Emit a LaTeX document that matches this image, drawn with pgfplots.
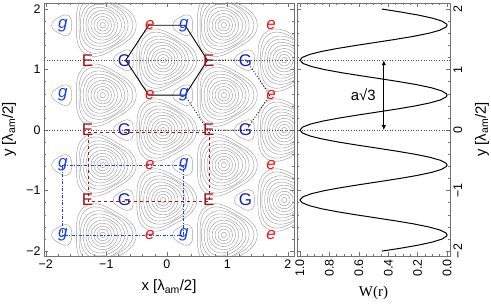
\documentclass[border=0pt]{standalone}
\usepackage{pgfplots}
\pgfplotsset{compat=1.18}
\usepackage{pgfplotstable}
\usepackage{fontspec}
\setmainfont{Liberation Sans}
\newfontfamily\serif{Liberation Serif}
\usetikzlibrary{arrows.meta}

\definecolor{Ecol}{rgb}{0.62,0.08,0.08}
\definecolor{ecol}{rgb}{0.95,0.08,0.08}
\definecolor{Gcol}{rgb}{0.08,0.12,0.68}
\definecolor{gcol}{rgb}{0.1,0.25,0.95}
\definecolor{framecol}{rgb}{0.45,0.45,0.45}
\definecolor{contcol}{rgb}{0.62,0.62,0.62}

\newcommand\lbl{\fontsize{17}{17}\selectfont}
\newcommand\tickf{\fontsize{12.5}{13}\selectfont}
\newcommand\labf{\fontsize{15}{16}\selectfont}

% rounded triangle marks (vertex pointing to +x)
\pgfdeclareplotmark{rtA}{%
  \pgfpathmoveto{\pgfqpoint{1.06\pgfplotmarksize}{0pt}}%
  \pgfpathcurveto{\pgfqpoint{1.06\pgfplotmarksize}{0.3784\pgfplotmarksize}}{\pgfqpoint{0.7606\pgfplotmarksize}{0.6463\pgfplotmarksize}}{\pgfqpoint{0.47\pgfplotmarksize}{0.8141\pgfplotmarksize}}%
  \pgfpathcurveto{\pgfqpoint{0.1794\pgfplotmarksize}{0.9819\pgfplotmarksize}}{\pgfqpoint{-0.2023\pgfplotmarksize}{1.1072\pgfplotmarksize}}{\pgfqpoint{-0.53\pgfplotmarksize}{0.918\pgfplotmarksize}}%
  \pgfpathcurveto{\pgfqpoint{-0.8577\pgfplotmarksize}{0.7288\pgfplotmarksize}}{\pgfqpoint{-0.94\pgfplotmarksize}{0.3356\pgfplotmarksize}}{\pgfqpoint{-0.94\pgfplotmarksize}{0pt}}%
  \pgfpathcurveto{\pgfqpoint{-0.94\pgfplotmarksize}{-0.3356\pgfplotmarksize}}{\pgfqpoint{-0.8577\pgfplotmarksize}{-0.7288\pgfplotmarksize}}{\pgfqpoint{-0.53\pgfplotmarksize}{-0.918\pgfplotmarksize}}%
  \pgfpathcurveto{\pgfqpoint{-0.2023\pgfplotmarksize}{-1.1072\pgfplotmarksize}}{\pgfqpoint{0.1794\pgfplotmarksize}{-0.9819\pgfplotmarksize}}{\pgfqpoint{0.47\pgfplotmarksize}{-0.8141\pgfplotmarksize}}%
  \pgfpathcurveto{\pgfqpoint{0.7606\pgfplotmarksize}{-0.6463\pgfplotmarksize}}{\pgfqpoint{1.06\pgfplotmarksize}{-0.3784\pgfplotmarksize}}{\pgfqpoint{1.06\pgfplotmarksize}{0pt}}%
  \pgfpathclose
  \pgfusepathqstroke
}
\pgfdeclareplotmark{rtB}{%
  \pgfpathmoveto{\pgfqpoint{1.12\pgfplotmarksize}{0pt}}%
  \pgfpathcurveto{\pgfqpoint{1.12\pgfplotmarksize}{0.4\pgfplotmarksize}}{\pgfqpoint{0.7121\pgfplotmarksize}{0.605\pgfplotmarksize}}{\pgfqpoint{0.44\pgfplotmarksize}{0.7621\pgfplotmarksize}}%
  \pgfpathcurveto{\pgfqpoint{0.1679\pgfplotmarksize}{0.9192\pgfplotmarksize}}{\pgfqpoint{-0.2137\pgfplotmarksize}{1.1698\pgfplotmarksize}}{\pgfqpoint{-0.56\pgfplotmarksize}{0.9699\pgfplotmarksize}}%
  \pgfpathcurveto{\pgfqpoint{-0.9063\pgfplotmarksize}{0.77\pgfplotmarksize}}{\pgfqpoint{-0.88\pgfplotmarksize}{0.3142\pgfplotmarksize}}{\pgfqpoint{-0.88\pgfplotmarksize}{0pt}}%
  \pgfpathcurveto{\pgfqpoint{-0.88\pgfplotmarksize}{-0.3142\pgfplotmarksize}}{\pgfqpoint{-0.9063\pgfplotmarksize}{-0.77\pgfplotmarksize}}{\pgfqpoint{-0.56\pgfplotmarksize}{-0.9699\pgfplotmarksize}}%
  \pgfpathcurveto{\pgfqpoint{-0.2137\pgfplotmarksize}{-1.1698\pgfplotmarksize}}{\pgfqpoint{0.1679\pgfplotmarksize}{-0.9192\pgfplotmarksize}}{\pgfqpoint{0.44\pgfplotmarksize}{-0.7621\pgfplotmarksize}}%
  \pgfpathcurveto{\pgfqpoint{0.7121\pgfplotmarksize}{-0.605\pgfplotmarksize}}{\pgfqpoint{1.12\pgfplotmarksize}{-0.4\pgfplotmarksize}}{\pgfqpoint{1.12\pgfplotmarksize}{0pt}}%
  \pgfpathclose
  \pgfusepathqstroke
}

\pgfplotstableread{
cx cy
-2.06 2.309
-0.06 2.309
1.94 2.309
-1.06 1.732
0.94 1.732
-2.06 1.155
-0.06 1.155
1.94 1.155
-1.06 0.577
0.94 0.577
-2.06 0
-0.06 0
1.94 0
-1.06 -0.577
0.94 -0.577
-2.06 -1.155
-0.06 -1.155
1.94 -1.155
-1.06 -1.732
0.94 -1.732
-2.06 -2.309
-0.06 -2.309
1.94 -2.309
}\minima

\pgfplotstableread{
x y
-1.31 1.155
0.69 1.155
-1.31 0
0.69 0
-1.31 -1.155
0.69 -1.155
}\Esites
\pgfplotstableread{
x y
-0.70 1.155
1.30 1.155
-0.70 0
1.30 0
-0.70 -1.155
1.30 -1.155
}\Gsites
\pgfplotstableread{
x y
-0.28 1.732
1.72 1.732
-0.28 0.577
1.72 0.577
-0.28 -0.577
1.72 -0.577
-0.28 -1.732
1.72 -1.732
}\esites
\pgfplotstableread{
x y
-1.72 1.732
0.28 1.732
-1.72 0.577
0.28 0.577
-1.72 -0.577
0.28 -0.577
-1.72 -1.732
0.28 -1.732
}\gsites

\pgfplotstableread{
y W
-2.00 0.4437
-1.95 0.3123
-1.90 0.1947
-1.85 0.0995
-1.80 0.0338
-1.75 0.0024
-1.732 0.0000
-1.70 0.0076
-1.65 0.0490
-1.60 0.1236
-1.55 0.2259
-1.50 0.3484
-1.45 0.4820
-1.40 0.6169
-1.35 0.7433
-1.30 0.8517
-1.25 0.9343
-1.20 0.9849
-1.155 1.0000
-1.10 0.9780
-1.05 0.9210
-1.00 0.8331
-0.95 0.7206
-0.90 0.5919
-0.85 0.4565
-0.80 0.3242
-0.75 0.2049
-0.70 0.1073
-0.65 0.0386
-0.60 0.0038
-0.577 0.0000
-0.55 0.0055
-0.50 0.0436
-0.45 0.1153
-0.40 0.2153
-0.35 0.3362
-0.30 0.4692
-0.25 0.6045
-0.20 0.7320
-0.15 0.8425
-0.10 0.9278
-0.05 0.9816
0.00 1.0000
0.05 0.9816
0.10 0.9278
0.15 0.8425
0.20 0.7320
0.25 0.6045
0.30 0.4692
0.35 0.3362
0.40 0.2153
0.45 0.1153
0.50 0.0436
0.55 0.0055
0.577 0.0000
0.60 0.0038
0.65 0.0386
0.70 0.1073
0.75 0.2049
0.80 0.3242
0.85 0.4565
0.90 0.5919
0.95 0.7206
1.00 0.8331
1.05 0.9210
1.10 0.9780
1.155 1.0000
1.20 0.9849
1.25 0.9343
1.30 0.8517
1.35 0.7433
1.40 0.6169
1.45 0.4820
1.50 0.3484
1.55 0.2259
1.60 0.1236
1.65 0.0490
1.70 0.0076
1.732 0.0000
1.75 0.0024
1.80 0.0338
1.85 0.0995
1.90 0.1947
1.95 0.3123
2.00 0.4437
}\Wdata

\begin{document}
\begin{tikzpicture}
\useasboundingbox (0,0) rectangle (491bp,308bp);

% ---------------- left panel ----------------
\begin{axis}[
  at={(44bp,52bp)}, anchor=south west, scale only axis,
  width=250bp, height=253bp,
  xmin=-2.03, xmax=2.1, ymin=-2.08, ymax=2.1,
  xtick={-2,-1,0,1,2}, xticklabels={−2,−1,0,1,2},
  ytick={-2,-1,0,1,2}, yticklabels={−2,−1,0,1,2},
  minor x tick num=4, minor y tick num=4,
  tick align=inside, tick pos=both,
  major tick length=4bp, minor tick length=2bp,
  axis line style={framecol, line width=0.6pt},
  every tick/.style={framecol, line width=0.5pt},
  tick label style={font=\tickf, text=black},
  xlabel={x [λ\textsubscript{am}/2]},
  ylabel={y [λ\textsubscript{am}/2]},
  every axis x label/.style={at={(axis description cs:0.5,0)}, anchor=center, yshift=-31bp, font=\labf},
  every axis y label/.style={at={(axis description cs:0,0.5)}, anchor=center, xshift=-35bp, rotate=90, font=\labf},
  clip marker paths=true,
]
% contour rings around the minima
\pgfplotsinvokeforeach{2.73,5.77,8.81,11.84,14.88}{%
  \addplot[contcol, line width=0.45pt, only marks, mark=o, mark size=#1pt] table {\minima};
}
\pgfplotsinvokeforeach{17.92,20.95,23.99}{%
  \addplot[contcol, line width=0.45pt, only marks, mark=rtA, mark size=#1pt] table {\minima};
}
\pgfplotsinvokeforeach{27.02,30.06}{%
  \addplot[contcol, line width=0.45pt, only marks, mark=rtB, mark size=#1pt] table {\minima};
}
% closed loops around the blue sites
\addplot[contcol, line width=0.45pt, only marks, mark=rtB, mark size=10pt, mark options={rotate=180}] table {\Gsites};
\addplot[contcol, line width=0.45pt, only marks, mark=rtB, mark size=10pt, mark options={rotate=180}] table {\gsites};

% guide lines
\addplot[black!70, dotted, line width=0.6pt] coordinates {(-2.03,1.155) (2.1,1.155)};
\addplot[black!70, dotted, line width=0.6pt] coordinates {(-2.03,0) (2.1,0)};
\addplot[black, line width=0.9pt] coordinates {(-0.68,1.155) (-0.3,1.732) (0.3,1.732) (0.67,1.155) (0.3,0.577) (-0.3,0.577) (-0.68,1.155)};
\addplot[black, dotted, line width=0.9pt] coordinates {(0.3,0.577) (0.67,0) (1.31,0) (1.70,0.577) (1.31,1.155) (0.67,1.155)};
\addplot[Ecol, dashed, line width=0.8pt] coordinates {(-1.30,-0.04) (0.70,-0.04) (0.70,-1.185) (-1.30,-1.185) (-1.30,-0.04)};
\addplot[gcol, dash pattern=on 3pt off 1.5pt on 1pt off 1.5pt, line width=0.8pt] coordinates {(-1.72,-0.577) (0.28,-0.577) (0.28,-1.732) (-1.72,-1.732) (-1.72,-0.577)};

% site labels
\addplot[only marks, mark=none, nodes near coords={E},
  every node near coord/.append style={font=\lbl, text=Ecol, anchor=center, inner sep=0pt}] table {\Esites};
\addplot[only marks, mark=none, nodes near coords={G},
  every node near coord/.append style={font=\lbl, text=Gcol, anchor=center, inner sep=0pt}] table {\Gsites};
\addplot[only marks, mark=none, nodes near coords={e},
  every node near coord/.append style={font=\lbl\itshape, text=ecol, anchor=center, inner sep=0pt}] table {\esites};
\addplot[only marks, mark=none, nodes near coords={g},
  every node near coord/.append style={font=\lbl\itshape, text=gcol, anchor=center, inner sep=0pt}] table {\gsites};
\end{axis}

% ---------------- right panel ----------------
\begin{axis}[
  at={(297bp,52bp)}, anchor=south west, scale only axis,
  width=153bp, height=253bp,
  xmin=-0.02, xmax=1.02, x dir=reverse, ymin=-2.08, ymax=2.1,
  xtick={0,0.2,0.4,0.6,0.8,1}, xticklabels={0.0,0.2,0.4,0.6,0.8,1.0},
  ytick={-2,-1,0,1,2}, yticklabels={−2,−1,0,1,2},
  minor x tick num=3, minor y tick num=4,
  tick align=inside, tick pos=both, yticklabel pos=right,
  major tick length=4bp, minor tick length=2bp,
  axis line style={framecol, line width=0.6pt},
  every tick/.style={framecol, line width=0.5pt},
  tick label style={font=\tickf, text=black},
  xticklabel style={rotate=90, anchor=east},
  yticklabel style={rotate=90, anchor=north},
  xlabel={\serif W(r)},
  ylabel={y [λ\textsubscript{am}/2]},
  every axis x label/.style={at={(axis description cs:0.5,0)}, anchor=center, yshift=-37bp, font=\labf},
  every axis y label/.style={at={(axis description cs:1,0.5)}, anchor=center, xshift=32bp, rotate=90, font=\labf},
]
\addplot[black!70, dotted, line width=0.6pt] coordinates {(-0.02,1.155) (1.02,1.155)};
\addplot[black!70, dotted, line width=0.6pt] coordinates {(-0.02,0) (1.02,0)};
\addplot[black, line width=1pt] table[x=W, y=y] {\Wdata};
\draw[{Latex[length=5bp,width=4.5bp]}-{Latex[length=5bp,width=4.5bp]}, line width=0.9pt] (axis cs:0.43,0) -- (axis cs:0.43,1.155);
\node[font=\fontsize{15}{15}\selectfont] at (axis cs:0.57,0.58) {a√3};
\end{axis}
\end{tikzpicture}
\end{document}
